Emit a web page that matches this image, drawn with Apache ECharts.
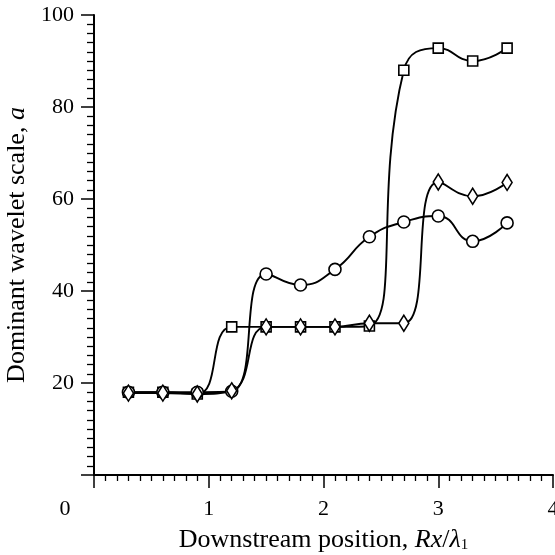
<!DOCTYPE html>
<html>
<head>
<meta charset="utf-8">
<style>
  html, body { margin: 0; padding: 0; background: #fff; }
  #chart { width: 555px; height: 555px; }
</style>
<script src="https://cdn.jsdelivr.net/npm/echarts@6/dist/echarts.min.js"></script>
</head>
<body>
<div id="chart"></div>
<script>
// Downstream stations, Rx/λ1
const positions = [0.3, 0.6, 0.9, 1.2, 1.5, 1.8, 2.1, 2.4, 2.7, 3.0, 3.3, 3.6];
// Dominant wavelet scale at each station, one list per case
const squareScale  = [18, 18, 17.6, 32.2, 32.2, 32.2, 32.2, 32.4, 88, 92.8, 90, 92.8];
const circleScale  = [18, 18, 18, 18.2, 43.7, 41.3, 44.7, 51.8, 55, 56.3, 50.8, 54.8];
const diamondScale = [17.8, 17.8, 17.6, 18.3, 32.2, 32.2, 32.2, 33, 33, 63.7, 60.6, 63.6];
const xTicks = [0, 1, 2, 3, 4];
const yTicks = [20, 40, 60, 80, 100];

const serif = '"Liberation Serif", "DejaVu Serif", serif';
const pairs = ys => positions.map((x, i) => [x, ys[i]]);

const mkSeries = (name, ys, symbol, size) => ({
  name,
  type: 'line',
  data: pairs(ys),
  smooth: 0.5,
  symbol,
  symbolSize: size,
  showAllSymbol: true,
  lineStyle: { color: '#000', width: 1.9 },
  itemStyle: { color: '#fff', borderColor: '#000', borderWidth: 1.6 },
  emphasis: { disabled: true },
  animation: false
});

const chart = echarts.init(document.getElementById('chart'), null, { renderer: 'canvas' });
chart.setOption({
  backgroundColor: '#fff',
  animation: false,
  grid: { left: 94, right: 2, top: 15, bottom: 80, containLabel: false, outerBoundsMode: 'none' },
  xAxis: {
    type: 'value',
    min: 0, max: 4, interval: 1,
    name: '{n|Downstream position, }{i|Rx}{n|/}{i|λ}{s|1}',
    nameLocation: 'middle',
    nameGap: 52,
    nameTextStyle: {
      rich: {
        n: { fontFamily: serif, fontSize: 26, color: '#000' },
        i: { fontFamily: serif, fontSize: 26, fontStyle: 'italic', color: '#000' },
        s: { fontFamily: serif, fontSize: 15, color: '#000', padding: [11, 0, 0, 0] }
      }
    },
    axisLine: { show: true, onZero: false, lineStyle: { color: '#000', width: 2 } },
    axisTick: { show: true, inside: false, length: 13, lineStyle: { color: '#000', width: 1.5 } },
    minorTick: { show: true, splitNumber: 10, length: 6, lineStyle: { color: '#000', width: 1.3 } },
    splitLine: { show: false },
    minorSplitLine: { show: false },
    axisLabel: {
      margin: 23,
      color: '#000',
      fontFamily: serif,
      fontSize: 22,
      formatter: v => (xTicks.includes(v) ? (v === 0 ? '{z|0}' : String(v)) : ''),
      rich: { z: { fontFamily: serif, fontSize: 22, color: '#000', padding: [0, 58, 0, 0] } }
    }
  },
  yAxis: {
    type: 'value',
    min: 0, max: 100, interval: 20,
    name: '{n|Dominant wavelet scale, }{i|a}',
    nameLocation: 'middle',
    nameGap: 62,
    nameRotate: 90,
    nameTextStyle: {
      rich: {
        n: { fontFamily: serif, fontSize: 26, color: '#000' },
        i: { fontFamily: serif, fontSize: 26, fontStyle: 'italic', color: '#000' }
      }
    },
    axisLine: { show: true, onZero: false, lineStyle: { color: '#000', width: 2 } },
    axisTick: { show: true, inside: false, length: 13, lineStyle: { color: '#000', width: 1.5 } },
    minorTick: { show: true, splitNumber: 10, length: 7, lineStyle: { color: '#000', width: 1.3 } },
    splitLine: { show: false },
    minorSplitLine: { show: false },
    axisLabel: {
      margin: 20,
      color: '#000',
      fontFamily: serif,
      fontSize: 22,
      formatter: v => (yTicks.includes(v) ? String(v) : '')
    }
  },
  series: [
    mkSeries('squares', squareScale, 'rect', 10),
    mkSeries('circles', circleScale, 'circle', 12),
    mkSeries('diamonds', diamondScale, 'diamond', [10, 16])
  ]
});
</script>
</body>
</html>
